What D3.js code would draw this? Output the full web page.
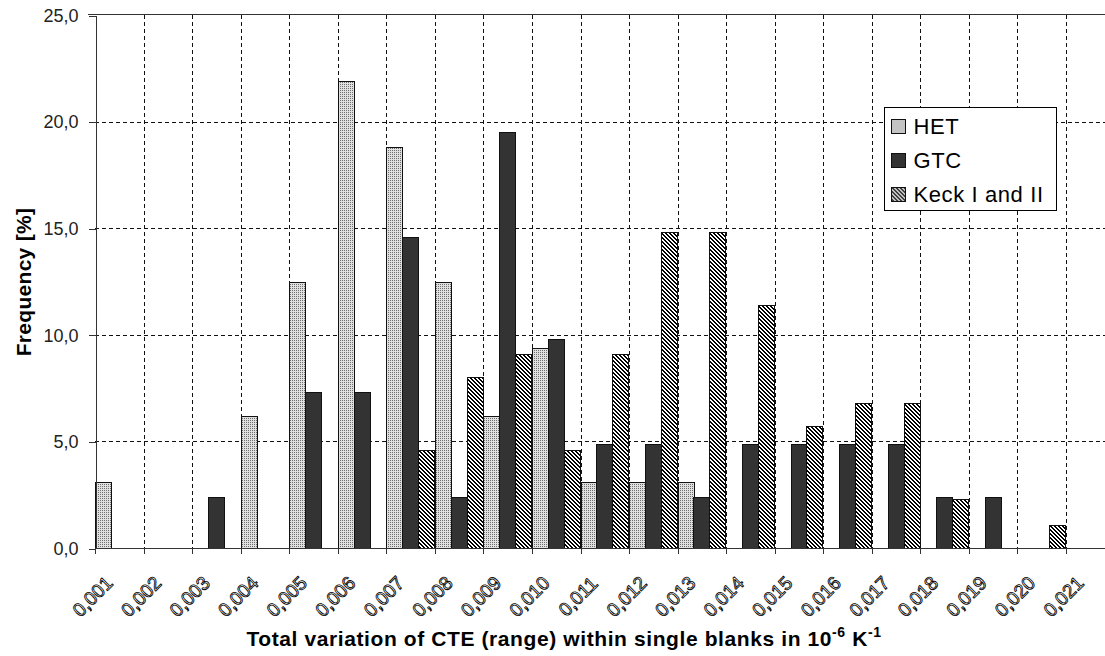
<!DOCTYPE html>
<html>
<head>
<meta charset="utf-8">
<title>CTE variation histogram</title>
<script src="https://d3js.org/d3.v7.min.js"></script>
<style>
  body { margin: 0; background: #fff; }
  svg { display: block; font-family: Arial, "Liberation Sans", sans-serif; }
  .grid line { stroke: #111; stroke-width: 1px; stroke-dasharray: 4,3; shape-rendering: crispEdges; }
  .bar { stroke: #111; stroke-width: 1px; shape-rendering: crispEdges; }
  .axis path, .axis line { stroke: #333; shape-rendering: crispEdges; }
  .ytick text { font-size: 18px; fill: #222; }
  .xtick text { font-size: 19px; fill: #fff; stroke: #000; stroke-width: 0.85px; }
  .title { font-weight: bold; font-size: 21px; fill: #000; }
  .legend text { font-size: 22px; fill: #000; letter-spacing: 0.6px; }
</style>
</head>
<body>
<svg></svg>
<script>
// tick labels at the bin edges
var edgeLabels = ["0,001", "0,002", "0,003", "0,004", "0,005", "0,006", "0,007",
  "0,008", "0,009", "0,010", "0,011", "0,012", "0,013", "0,014", "0,015",
  "0,016", "0,017", "0,018", "0,019", "0,020", "0,021"];
// one bin between two neighbouring edges, named by its left edge
var bins = edgeLabels.slice(0, 20);

var seriesNames = ["HET", "GTC", "Keck I and II"];
var hetValues = [3.1, 0, 0, 6.2, 12.5, 21.9, 18.8, 12.5, 6.2, 9.4,
  3.1, 3.1, 3.1, 0, 0, 0, 0, 0, 0, 0];
var gtcValues = [0, 0, 2.4, 0, 7.3, 7.3, 14.6, 2.4, 19.5, 9.8,
  4.9, 4.9, 2.4, 4.9, 4.9, 4.9, 4.9, 2.4, 2.4, 0];
var keckValues = [0, 0, 0, 0, 0, 0, 4.6, 8.0, 9.1, 4.6,
  9.1, 14.8, 14.8, 11.4, 5.7, 6.8, 6.8, 2.3, 0, 1.1];
var yTicks = [0, 5, 10, 15, 20, 25];

//begin: layout conf.
var svgWidth = 1105,
  svgHeight = 656,
  plotLeft = 95,
  plotRight = 1066,
  plotTop = 15,
  plotBottom = 548;
//end: layout conf.

var svg = d3.select("svg")
  .attr("width", svgWidth)
  .attr("height", svgHeight);

var defs = svg.append("defs");

// HET: fine grey dot texture
var het = defs.append("pattern")
  .attr("id", "pat-het")
  .attr("patternUnits", "userSpaceOnUse")
  .attr("width", 2).attr("height", 2);
het.append("rect").attr("width", 2).attr("height", 2).attr("fill", "#e0e0e0");
het.append("rect").attr("width", 1).attr("height", 1).attr("fill", "#6e6e6e");

// Keck: "\" hatching
var keck = defs.append("pattern")
  .attr("id", "pat-keck")
  .attr("patternUnits", "userSpaceOnUse")
  .attr("width", 4).attr("height", 4);
keck.append("rect").attr("width", 4).attr("height", 4).attr("fill", "#fff");
d3.range(4).forEach(function (r) {
  [0, 1].forEach(function (k) {
    keck.append("rect")
      .attr("x", (r + k) % 4).attr("y", r)
      .attr("width", 1).attr("height", 1)
      .attr("fill", "#000");
  });
});

var fills = ["url(#pat-het)", "#333333", "url(#pat-keck)"];
var series = [hetValues, gtcValues, keckValues];

//scales
var y = d3.scaleLinear().domain([0, 25]).range([plotBottom, plotTop]);
var xEdge = d3.scalePoint().domain(edgeLabels).range([plotLeft, plotRight]).padding(0);
var xBin = d3.scaleBand().domain(bins).range([plotLeft, plotRight]).paddingInner(0).paddingOuter(0);
var xSeries = d3.scaleBand().domain(seriesNames).range([0, xBin.bandwidth() - 1]);

//grid
var grid = svg.append("g").classed("grid", true);
grid.selectAll(".hg")
  .data(yTicks.filter(function (d) { return d > 0 && d < 25; }))
  .enter().append("line")
  .attr("x1", plotLeft).attr("x2", svgWidth)
  .attr("y1", function (d) { return Math.round(y(d)) + 0.5; })
  .attr("y2", function (d) { return Math.round(y(d)) + 0.5; });
grid.selectAll(".vg")
  .data(edgeLabels.slice(1))
  .enter().append("line")
  .attr("x1", function (d) { return Math.round(xEdge(d)) + 0.5; })
  .attr("x2", function (d) { return Math.round(xEdge(d)) + 0.5; })
  .attr("y1", plotTop).attr("y2", plotBottom);

// top border line
svg.append("line")
  .attr("x1", plotLeft - 7).attr("x2", svgWidth)
  .attr("y1", plotTop - 0.5).attr("y2", plotTop - 0.5)
  .attr("stroke", "#333").attr("shape-rendering", "crispEdges");

//bars
series.forEach(function (values, si) {
  svg.append("g")
    .selectAll("rect")
    .data(bins.map(function (b, i) { return { bin: b, value: values[i] }; })
      .filter(function (d) { return d.value > 0; }))
    .enter().append("rect")
    .classed("bar", true)
    .attr("x", function (d) { return Math.round(xBin(d.bin) + xSeries(seriesNames[si])) + 0.5; })
    .attr("y", function (d) { return Math.round(y(d.value)) + 0.5; })
    .attr("width", Math.round(xSeries.bandwidth()))
    .attr("height", function (d) { return Math.round(y(0)) - Math.round(y(d.value)); })
    .attr("fill", fills[si]);
});

//axes
var yAxis = svg.append("g")
  .attr("class", "axis ytick")
  .attr("transform", "translate(" + (plotLeft + 0.5) + ",0.5)")
  .call(d3.axisLeft(y).tickValues(yTicks).tickSize(7).tickSizeOuter(0)
    .tickFormat(function (d) { return d3.format(".1f")(d).replace(".", ","); }));
yAxis.selectAll("text").attr("x", -17);

var xAxis = svg.append("g")
  .attr("class", "axis xtick")
  .attr("transform", "translate(0," + (plotBottom + 0.5) + ")")
  .call(d3.axisBottom(xEdge).tickSize(5).tickSizeOuter(0));
xAxis.select(".domain").attr("d", "M" + plotLeft + ",0H" + svgWidth);
xAxis.selectAll("text")
  .attr("text-anchor", "middle")
  .attr("dy", "0.35em")
  .attr("y", 0)
  .attr("transform", "translate(-3,48) rotate(-45)");

//axis titles
svg.append("text")
  .classed("title", true)
  .attr("transform", "translate(31,282) rotate(-90)")
  .attr("text-anchor", "middle")
  .style("letter-spacing", "0.3px")
  .text("Frequency [%]");

var xt = svg.append("text")
  .classed("title", true)
  .attr("x", 564).attr("y", 646)
  .attr("text-anchor", "middle")
  .style("letter-spacing", "0.6px");
xt.append("tspan").text("Total variation of CTE (range) within single blanks in 10");
xt.append("tspan").attr("dy", -9).style("font-size", "14px").text("-6");
xt.append("tspan").attr("dy", 9).text(" K");
xt.append("tspan").attr("dy", -9).style("font-size", "14px").text("-1");

//legend
var legend = svg.append("g").classed("legend", true)
  .attr("transform", "translate(884.5,107.5)");
legend.append("rect")
  .attr("width", 172).attr("height", 103)
  .attr("fill", "#fff").attr("stroke", "#000");
var entries = legend.selectAll(".entry")
  .data(seriesNames)
  .enter().append("g")
  .attr("transform", function (d, i) { return "translate(7," + (12 + i * 34) + ")"; });
entries.append("rect")
  .attr("width", 14).attr("height", 14)
  .attr("fill", function (d, i) { return fills[i]; })
  .attr("stroke", "#111");
entries.append("text")
  .attr("x", 22).attr("y", 7).attr("dy", "0.36em")
  .text(function (d) { return d; });
</script>
</body>
</html>
